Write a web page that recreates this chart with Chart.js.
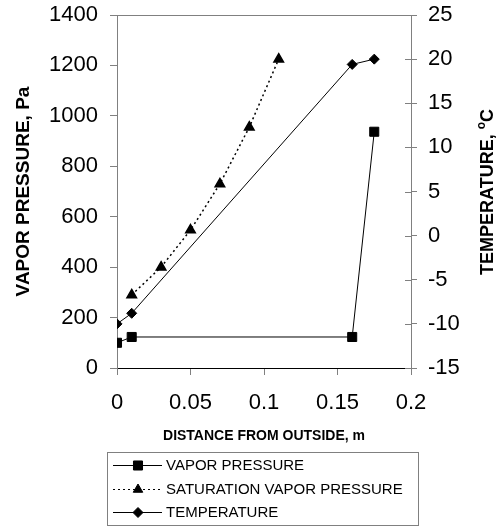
<!DOCTYPE html>
<html>
<head>
<meta charset="utf-8">
<script src="https://cdn.jsdelivr.net/npm/chart.js@4.4.1/dist/chart.umd.min.js"></script>
<style>
  html, body { margin: 0; padding: 0; background: #fff; }
  #wrap { width: 501px; height: 532px; }
</style>
</head>
<body>
<div id="wrap"><canvas id="chart_profile"></canvas></div>
<script>
var distance_vp = [0, 0.01, 0.16, 0.175];
var vapor_pressure = [100, 123, 123, 937];
var distance_svp = [0.01, 0.03, 0.05, 0.07, 0.09, 0.11];
var saturation_pressure = [290, 400, 547, 730, 955, 1225];
var distance_temp = [0, 0.01, 0.16, 0.175];
var temperature = [-10, -8.8, 19.4, 20];
var x_ticks = ['0', '0.05', '0.1', '0.15', '0.2'];
var font_name = '"Liberation Sans", Arial, sans-serif';

function pairs(xs, ys) {
  return xs.map(function (x, i) { return { x: x, y: ys[i] }; });
}

// fixed box sizes so the plot lands where the reference has it
function fix_width(w) {
  return function (scale) {
    scale.width = w;
    scale.paddingTop = 0;
    scale.paddingBottom = 0;
  };
}

// top border of the plot, inner halves of the right ticks, right title, legend box
var extras = {
  id: 'extras',
  afterDraw: function (chart) {
    var ctx = chart.ctx;
    var area = chart.chartArea;
    var y2 = chart.scales.y2;
    ctx.save();
    ctx.strokeStyle = '#808080';
    ctx.lineWidth = 1;
    ctx.beginPath();
    ctx.moveTo(area.left, Math.round(area.top) + 0.5);
    ctx.lineTo(area.right, Math.round(area.top) + 0.5);
    y2.ticks.forEach(function (t, i) {
      var py = Math.round(y2.getPixelForTick(i)) + 0.5;
      ctx.moveTo(area.right - 6, py);
      ctx.lineTo(area.right, py);
    });
    ctx.stroke();

    // right axis title, reading bottom to top
    ctx.translate(488, 192);
    ctx.rotate(-Math.PI / 2);
    ctx.fillStyle = '#000';
    ctx.textBaseline = 'middle';
    ctx.font = 'bold 18px ' + font_name;
    var main = 'TEMPERATURE, ';
    var w1 = ctx.measureText(main).width;
    ctx.font = 'bold 12px ' + font_name;
    var w2 = ctx.measureText('o').width;
    ctx.font = 'bold 18px ' + font_name;
    var w3 = ctx.measureText('C').width;
    var start = -(w1 + w2 + w3) / 2;
    ctx.fillText(main, start, 0);
    ctx.font = 'bold 12px ' + font_name;
    ctx.fillText('o', start + w1, -6);
    ctx.font = 'bold 18px ' + font_name;
    ctx.fillText('C', start + w1 + w2, 0);
    ctx.restore();

    // legend
    ctx.save();
    ctx.strokeStyle = '#808080';
    ctx.lineWidth = 1;
    ctx.strokeRect(107.5, 452.5, 311, 73);
    ctx.font = '15px ' + font_name;
    ctx.textBaseline = 'middle';
    chart.data.datasets.forEach(function (ds, i) {
      var y = Math.round(465 + i * 23.5) + 0.5;
      ctx.strokeStyle = '#000';
      ctx.fillStyle = '#000';
      ctx.setLineDash(ds.borderDash || []);
      ctx.beginPath();
      ctx.moveTo(113, y);
      ctx.lineTo(162, y);
      ctx.stroke();
      ctx.setLineDash([]);
      Chart.helpers.drawPoint(ctx, {
        pointStyle: ds.pointStyle,
        radius: ds.pointRadius,
        borderWidth: 1,
        rotation: 0
      }, 138, y);
      ctx.fillText(ds.label, 166, y);
    });
    ctx.restore();
  }
};

function make_chart() {
  var ctx = document.getElementById('chart_profile').getContext('2d');
  Chart.defaults.font.family = font_name;
  Chart.defaults.color = '#000';

  new Chart(ctx, {
    type: 'scatter',
    data: {
      datasets: [{
        label: 'VAPOR PRESSURE',
        data: pairs(distance_vp, vapor_pressure),
        yAxisID: 'y',
        showLine: true,
        borderColor: '#000',
        backgroundColor: '#000',
        borderWidth: 1,
        pointStyle: 'rect',
        pointRadius: 6.4
      }, {
        label: 'SATURATION VAPOR PRESSURE',
        data: pairs(distance_svp, saturation_pressure),
        yAxisID: 'y',
        showLine: true,
        borderColor: '#000',
        backgroundColor: '#000',
        borderWidth: 1.5,
        borderDash: [2, 3],
        pointStyle: 'triangle',
        pointRadius: 5.5
      }, {
        label: 'TEMPERATURE',
        data: pairs(distance_temp, temperature),
        yAxisID: 'y2',
        showLine: true,
        borderColor: '#000',
        backgroundColor: '#000',
        borderWidth: 1,
        pointStyle: 'rectRot',
        pointRadius: 5
      }]
    },
    options: {
      responsive: true,
      maintainAspectRatio: false,
      animation: false,
      layout: { padding: { top: 15, bottom: 87 } },
      plugins: {
        legend: { display: false },
        tooltip: { enabled: false }
      },
      scales: {
        x: {
          type: 'linear',
          min: 0,
          max: 0.2,
          afterFit: function (scale) {
            scale.height = 77;
            scale.paddingLeft = 0;
            scale.paddingRight = 0;
          },
          afterBuildTicks: function (scale) {
            scale.ticks = x_ticks.map(function (t) { return { value: Number(t) }; });
          },
          ticks: {
            font: { size: 22 },
            padding: 15,
            maxRotation: 0,
            callback: function (value, index) { return x_ticks[index]; }
          },
          grid: { drawOnChartArea: false, color: '#808080', tickLength: 7 },
          border: { color: '#000', width: 1 },
          title: {
            display: true,
            text: 'DISTANCE FROM OUTSIDE, m',
            font: { size: 14, weight: 'bold' },
            padding: { top: 0, bottom: 0 }
          }
        },
        y: {
          position: 'left',
          min: 0,
          max: 1400,
          afterFit: fix_width(117),
          ticks: {
            stepSize: 200,
            font: { size: 22 },
            padding: 12,
            callback: function (value) { return String(value); }
          },
          grid: { drawOnChartArea: false, color: '#808080', tickLength: 7 },
          border: { color: '#808080', width: 1 },
          title: {
            display: true,
            text: 'VAPOR PRESSURE, Pa',
            font: { size: 19, weight: 'bold' },
            padding: { top: 12, bottom: 0 }
          }
        },
        y2: {
          position: 'right',
          min: -15,
          max: 25,
          afterFit: fix_width(90),
          ticks: {
            stepSize: 5,
            font: { size: 22 },
            padding: 11,
            callback: function (value) { return String(value); }
          },
          grid: { drawOnChartArea: false, color: '#808080', tickLength: 6 },
          border: { color: '#808080', width: 1 }
        }
      }
    },
    plugins: [extras]
  });
}

make_chart();
</script>
</body>
</html>
